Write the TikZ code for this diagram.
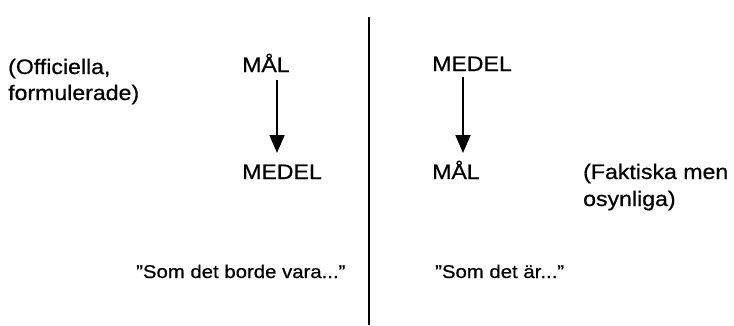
\documentclass[tikz,border=0pt]{standalone}
\usepackage{fontspec}
\setmainfont{Liberation Sans}[FakeStretch=1.1,FakeBold=0.6]
\usetikzlibrary{arrows.meta}
\begin{document}
\begin{tikzpicture}[x=1pt,y=-1pt,
  lbl/.style={anchor=base west,inner sep=0pt,font=\fontsize{21}{25}\selectfont},
  quote/.style={anchor=base west,inner sep=0pt,font=\fontsize{18.5}{22}\selectfont},
  arr/.style={line width=1.8pt,-{Triangle[length=18pt,width=15pt]}}]
\useasboundingbox (0,0) rectangle (734,325);
\draw[line width=2.6pt] (369,17) -- (369,325);
% left side
\node[lbl] (off1) at (8,74) {(Officiella,};
\node[lbl] (off2) at (8,100) {formulerade)};
\node[lbl] (malL) at (242,72) {MÅL};
\node[lbl] (medL) at (242,179) {MEDEL};
\draw[arr] ([xshift=35pt,yshift=-8pt]malL.base west) -- ([xshift=35pt,yshift=26pt]medL.base west);
\node[quote] (qL) at (136,278) {"Som det borde vara..."};
% right side
\node[lbl] (medR) at (432,71) {MEDEL};
\node[lbl] (malR) at (432,179) {MÅL};
\draw[arr] ([xshift=31pt,yshift=-6pt]medR.base west) -- ([xshift=31pt,yshift=26pt]malR.base west);
\node[lbl] (fak1) at (583,179) {(Faktiska men};
\node[lbl] (fak2) at (583,206) {osynliga)};
\node[quote] (qR) at (435,278) {"Som det är..."};
\end{tikzpicture}
\end{document}
